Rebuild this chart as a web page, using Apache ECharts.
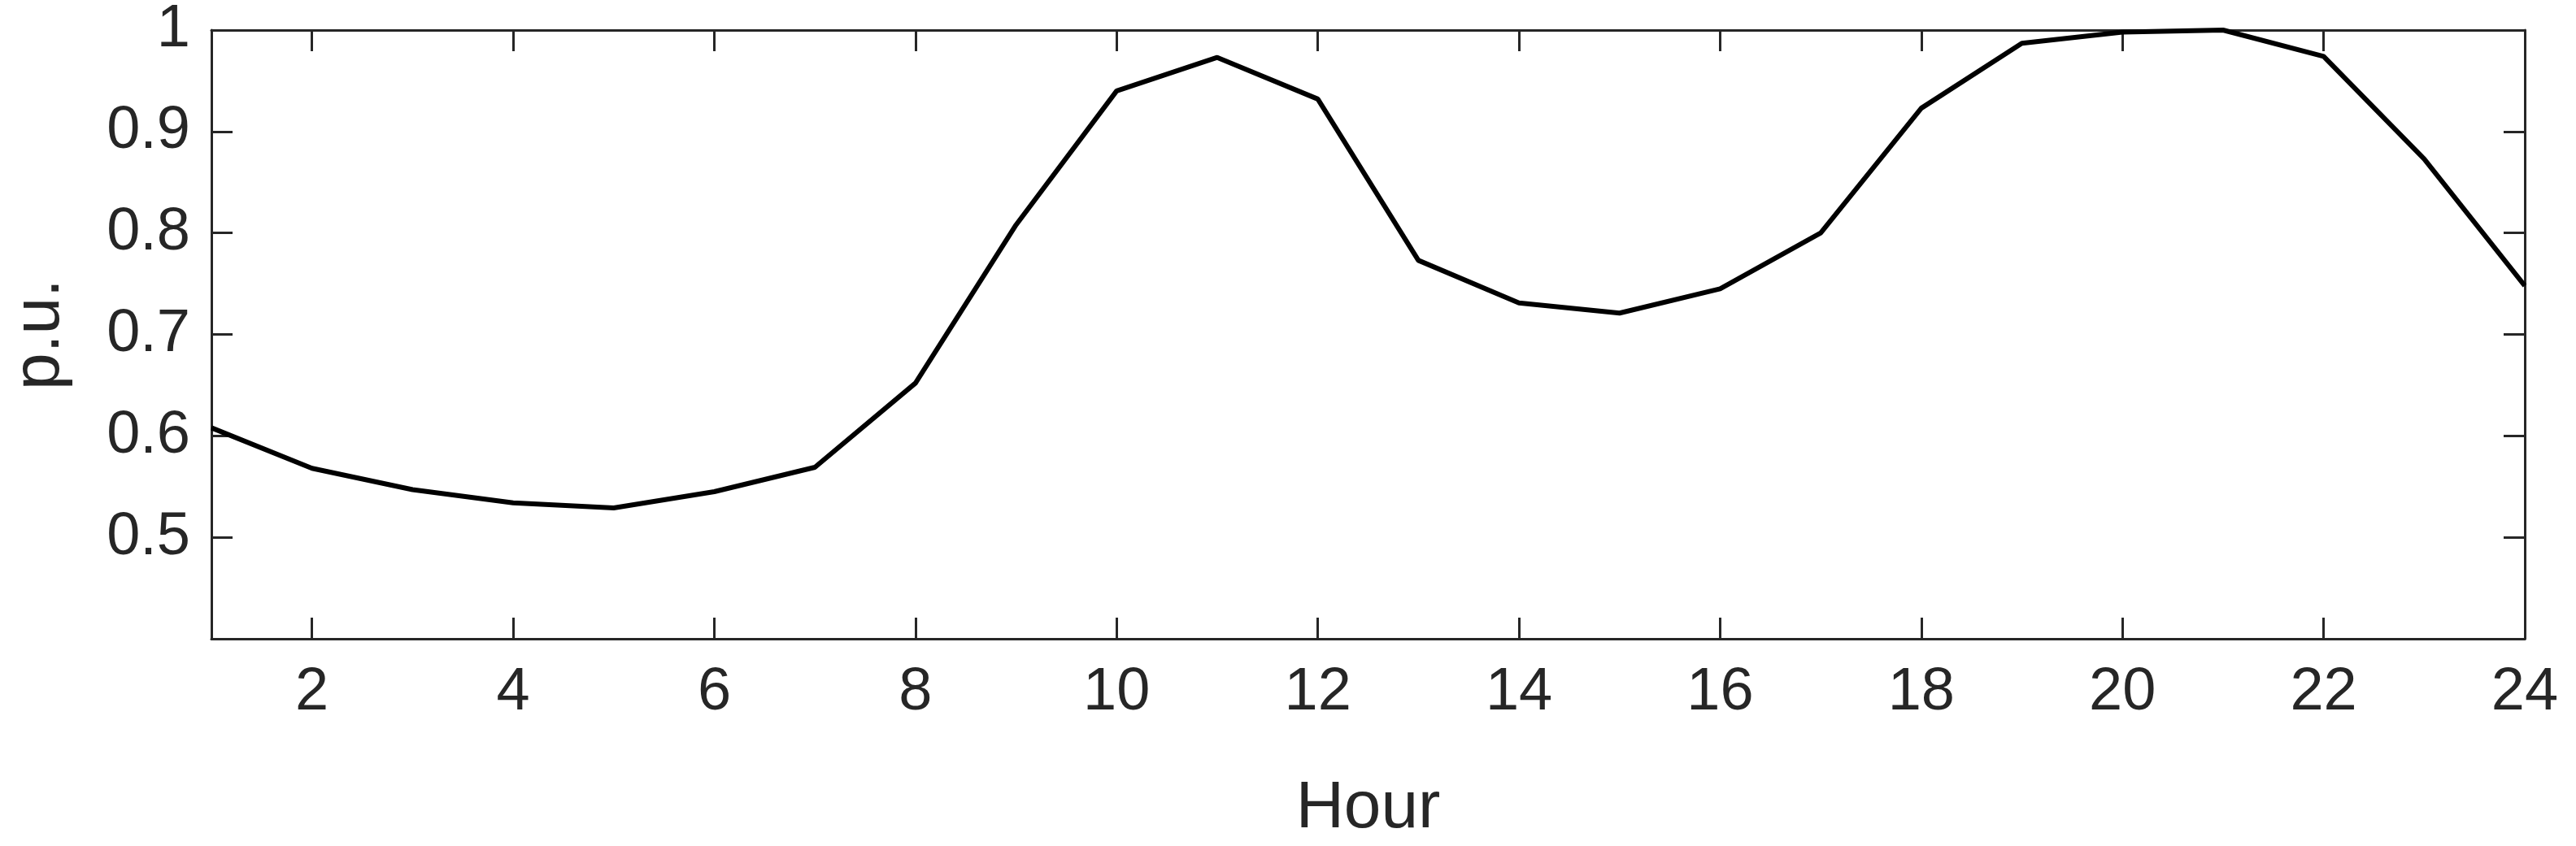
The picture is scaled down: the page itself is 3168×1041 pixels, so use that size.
<!DOCTYPE html>
<html>
<head>
<meta charset="utf-8">
<script src="https://cdn.jsdelivr.net/npm/echarts@6/dist/echarts.min.js"></script>
<style>html,body{margin:0;padding:0;background:#fff}#chart{width:3168px;height:1041px}</style>
</head>
<body>
<div id="chart"></div>
<script>
// hourly load profile (p.u.)
const hours = [1,2,3,4,5,6,7,8,9,10,11,12,13,14,15,16,17,18,19,20,21,22,23,24];
const load = [0.608,0.568,0.547,0.534,0.529,0.545,0.569,0.652,0.808,0.940,0.973,0.932,
              0.773,0.731,0.721,0.745,0.800,0.923,0.987,0.998,1.0,0.974,0.873,0.748];
const xTicks = [2,4,6,8,10,12,14,16,18,20,22,24];

const chart = echarts.init(document.getElementById('chart'));
const font = 'Arial, "Liberation Sans", sans-serif';
const line = { lineStyle: { color: '#262626', width: 3 } };
const xBase = {
    type: 'value', min: 1, max: 24,
    axisLine: { show: true, onZero: false, ...line },
    axisTick: { show: true, inside: true, length: 26, customValues: xTicks, ...line },
    splitLine: { show: false }
};
const yBase = {
    type: 'value', min: 0.4, max: 1, interval: 0.1,
    axisLine: { show: true, ...line },
    axisTick: { show: true, inside: true, length: 26, ...line },
    splitLine: { show: false }
};
chart.setOption({
    animation: false,
    grid: { left: 246, right: 63, top: 34, bottom: 255 },
    xAxis: [
        { ...xBase, position: 'bottom', name: 'Hour', nameLocation: 'middle', nameGap: 168,
          nameTextStyle: { fontSize: 82, color: '#262626', fontFamily: font },
          axisLabel: { fontSize: 74, color: '#262626', fontFamily: font, margin: 30, customValues: xTicks } },
        { ...xBase, position: 'top', axisLabel: { show: false } }
    ],
    yAxis: [
        { ...yBase, position: 'left', name: 'p.u.', nameLocation: 'middle', nameGap: 170,
          nameTextStyle: { fontSize: 82, color: '#262626', fontFamily: font },
          axisLabel: { fontSize: 74, color: '#262626', fontFamily: font, margin: 26,
                       formatter: v => (Math.abs(v - 0.4) < 1e-6 ? '' : String(+v.toFixed(1))) } },
        { ...yBase, position: 'right', axisLabel: { show: false } }
    ],
    series: [{
        type: 'line',
        data: hours.map((h, i) => [h, load[i]]),
        symbol: 'none',
        lineStyle: { color: '#000', width: 6 }
    }]
});
</script>
</body>
</html>
